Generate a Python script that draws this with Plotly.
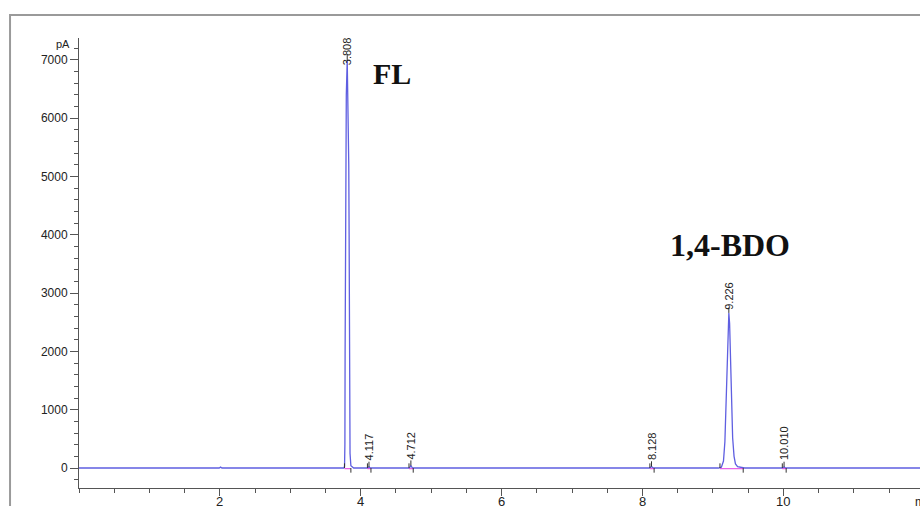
import plotly.graph_objects as go

# ---------------- data ----------------
time_min = [0.00, 1.60, 1.62, 1.64, 1.99, 2.01, 2.03, 3.70, 3.76, 3.77, 3.775, 3.778,
            3.781, 3.786, 3.795, 3.808, 3.820, 3.830, 3.835, 3.838, 3.842, 3.848, 3.86,
            3.90, 4.10, 4.117,
            4.135, 4.32, 4.34, 4.36, 4.69, 4.712, 4.735, 8.10, 8.128, 8.155, 8.63,
            8.65, 8.67, 9.08, 9.12, 9.15, 9.17, 9.19, 9.205, 9.215, 9.226, 9.237,
            9.25, 9.265, 9.28, 9.30, 9.32, 9.35, 9.40, 9.45, 9.99, 10.010, 10.03, 11.94]
signal_pA = [0, 0, 10, 0, 0, 15, 0, 0, 0, 30, 400, 2000,
             4000, 5500, 6400, 7000, 6300, 5200, 4000, 2500, 1000, 250, 40,
             0, 0, 18,
             0, 0, 8, 0, 0, 40, 0, 0, 25, 0, 0,
             10, 0, 0, 15, 120, 450, 1200, 2000, 2500, 2660, 2480,
             1900, 1100, 520, 200, 70, 25, 8, 0, 0, 18, 0, 0]

peak_rt = [3.808, 4.117, 4.712, 8.128, 9.226, 10.010]
peak_height = [7000, 18, 40, 25, 2660, 18]
peak_start = [3.770, 4.095, 4.685, 8.105, 9.10, 9.985]
peak_end = [3.860, 4.145, 4.745, 8.165, 9.43, 10.04]
label_shift_px = [-7, 5, 4, 4, 1, 5]

compound_names = ["FL", "1,4-BDO"]
compound_pos_t = [4.44, 9.24]
compound_pos_y = [6760, 3830]
compound_font = [30, 32]

x_ticks = [2, 4, 6, 8, 10]
y_ticks = [0, 1000, 2000, 3000, 4000, 5000, 6000, 7000]

# ---------------- figure ----------------
fig = go.Figure()

fig.add_trace(go.Scatter(x=time_min, y=signal_pA, mode="lines",
                         line=dict(color="rgb(95,95,225)", width=1.3),
                         hoverinfo="skip", showlegend=False))

# integration baselines (pink)
bx, by = [], []
for s, e in zip(peak_start, peak_end):
    bx += [s, e, None]
    by += [-12, -12, None]
fig.add_trace(go.Scatter(x=bx, y=by, mode="lines",
                         line=dict(color="rgb(225,60,225)", width=1),
                         hoverinfo="skip", showlegend=False))

# peak start / end / apex tick marks
tx, ty = [], []
for s, e, rt, h in zip(peak_start, peak_end, peak_rt, peak_height):
    tx += [s, s, None, e, e, None, rt, rt, None]
    ty += [0, 80, None, 0, -80, None, h, h + 90, None]
fig.add_trace(go.Scatter(x=tx, y=ty, mode="lines",
                         line=dict(color="#333333", width=1),
                         hoverinfo="skip", showlegend=False))

# retention time labels
for rt, h, sh in zip(peak_rt, peak_height, label_shift_px):
    fig.add_annotation(x=rt, y=h, text=f"{rt:.3f}", textangle=-90,
                       xanchor="center", yanchor="bottom", yshift=sh,
                       showarrow=False,
                       font=dict(family="Liberation Sans, Arial", size=11, color="#222222"))

# compound names
for name, t, y, fs in zip(compound_names, compound_pos_t, compound_pos_y, compound_font):
    fig.add_annotation(x=t, y=y, text=f"<b>{name}</b>", showarrow=False,
                       xanchor="center", yanchor="middle",
                       font=dict(family="Liberation Serif, Times New Roman", size=fs, color="#111111"))

# x tick labels (partly below the visible window, as in the source image)
for v in x_ticks:
    fig.add_annotation(x=v, xref="x", yref="paper", y=-0.009, text=str(v),
                       showarrow=False, xanchor="center", yanchor="top",
                       font=dict(family="Liberation Sans, Arial", size=13, color="#222222"))

# unit labels
fig.add_annotation(xref="paper", yref="paper", x=-0.0196, y=0.987, text="pA",
                   showarrow=False, xanchor="center", yanchor="middle",
                   font=dict(family="Liberation Sans, Arial", size=11, color="#222222"))
fig.add_annotation(xref="paper", yref="paper", x=0.992, y=-0.012, text="min",
                   showarrow=False, xanchor="left", yanchor="top",
                   font=dict(family="Liberation Sans, Arial", size=12, color="#222222"))

# outer grey frame
fig.add_shape(type="rect", xref="paper", yref="paper",
              x0=-0.082, x1=1.2, y0=-0.3, y1=1.051,
              line=dict(color="#9a9a9a", width=2), fillcolor="rgba(0,0,0,0)", layer="below")

axis_font = dict(family="Liberation Sans, Arial", size=12, color="#222222")
fig.update_xaxes(range=[0, 11.94], tickvals=x_ticks, showticklabels=False,
                 showline=True, linecolor="#555555", linewidth=1, showgrid=False, zeroline=False,
                 ticks="outside", ticklen=7, tickcolor="#555555",
                 minor=dict(dtick=0.5, tick0=0, ticks="outside", ticklen=4, tickcolor="#555555",
                            showgrid=False),
                 automargin=False)
fig.update_yaxes(range=[-343, 7377], tickvals=y_ticks, ticktext=[str(v) for v in y_ticks],
                 showline=True, linecolor="#555555", linewidth=1, showgrid=False, zeroline=False,
                 ticks="outside", ticklen=8, tickcolor="#555555", tickfont=axis_font,
                 minor=dict(dtick=200, tick0=0, ticks="outside", ticklen=4, tickcolor="#555555",
                            showgrid=False),
                 automargin=False)

fig.update_layout(width=920, height=506, margin=dict(l=79, r=0, t=38, b=18),
                  plot_bgcolor="white", paper_bgcolor="white", showlegend=False)

fig.write_html("out.html")
